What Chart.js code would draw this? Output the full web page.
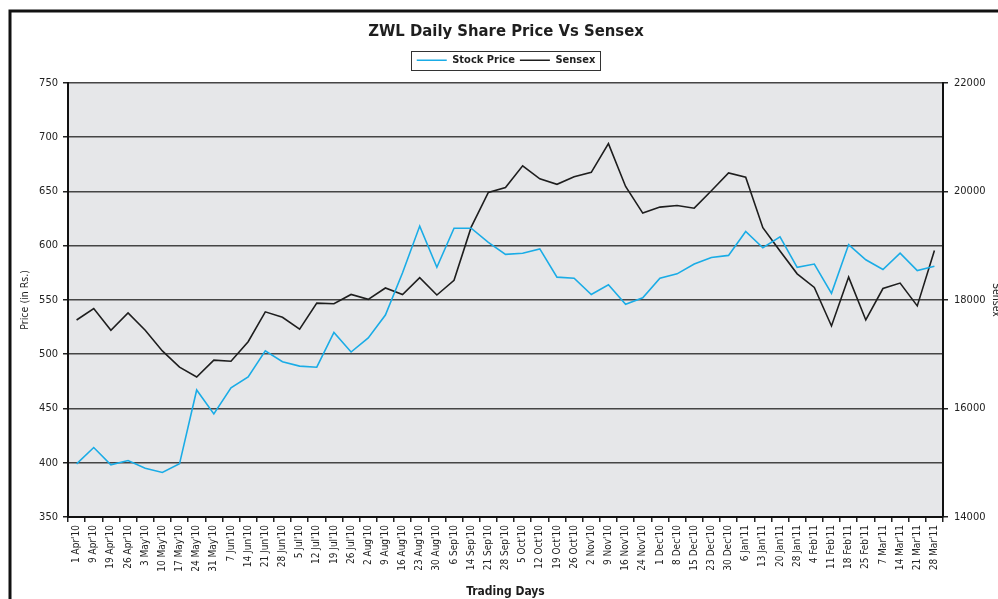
<!DOCTYPE html>
<html>
<head>
<meta charset="utf-8">
<title>ZWL Daily Share Price Vs Sensex</title>
<script src="https://cdn.jsdelivr.net/npm/chart.js@4.4.1/dist/chart.umd.min.js"></script>
<style>
  html, body { margin: 0; padding: 0; background: #fff; }
  #wrap { width: 998px; height: 599px; }
</style>
</head>
<body>
<div id="wrap"><canvas id="chart" width="998" height="599"></canvas></div>
<script>
// ════════════════════════════════════════════════════════════════════════════
// Data — weekly ZWL share price vs Sensex, Apr'10 – Mar'11
// ════════════════════════════════════════════════════════════════════════════

const tradingDays = [
  "1 Apr'10", "9 Apr'10", "19 Apr'10", "26 Apr'10", "3 May'10", "10 May'10",
  "17 May'10", "24 May'10", "31 May'10", "7 Jun'10", "14 Jun'10", "21 Jun'10",
  "28 Jun'10", "5 Jul'10", "12 Jul'10", "19 Jul'10", "26 Jul'10", "2 Aug'10",
  "9 Aug'10", "16 Aug'10", "23 Aug'10", "30 Aug'10", "6 Sep'10", "14 Sep'10",
  "21 Sep'10", "28 Sep'10", "5 Oct'10", "12 Oct'10", "19 Oct'10", "26 Oct'10",
  "2 Nov'10", "9 Nov'10", "16 Nov'10", "24 Nov'10", "1 Dec'10", "8 Dec'10",
  "15 Dec'10", "23 Dec'10", "30 Dec'10", "6 Jan'11", "13 Jan'11", "20 Jan'11",
  "28 Jan'11", "4 Feb'11", "11 Feb'11", "18 Feb'11", "25 Feb'11", "7 Mar'11",
  "14 Mar'11", "21 Mar'11", "28 Mar'11"
];

const stockPrice = [
  399, 414, 398, 402, 395, 391, 399, 467, 445, 469, 479, 503, 493, 489, 488,
  520, 502, 515, 536, 575, 618, 580, 616, 616, 603, 592, 593, 597, 571, 570,
  555, 564, 546, 552, 570, 574, 583, 589, 591, 613, 598, 608, 580, 583, 556,
  601, 587, 578, 593, 577, 581
];

const sensex = [
  17630, 17840, 17440, 17760, 17440, 17060, 16760, 16580, 16890, 16870, 17230,
  17780, 17680, 17460, 17940, 17930, 18100, 18010, 18220, 18100, 18410, 18090,
  18360, 19340, 19980, 20070, 20470, 20230, 20130, 20270, 20350, 20880, 20090,
  19600, 19710, 19740, 19690, 20010, 20340, 20260, 19330, 18900, 18480, 18230,
  17520, 18420, 17630, 18210, 18310, 17890, 18910
];

const priceAxis  = { min: 350,   max: 750,   step: 50 };
const sensexAxis = { min: 14000, max: 22000, step: 2000 };

// ── look ──────────────────────────────────────────────────────────────────────

const FONT      = "'DejaVu Sans Condensed', 'DejaVu Sans', sans-serif";
const INK       = '#1e1e1e';
const BLUE      = '#1aace6';
const PLOT_BG   = '#e6e7e9';
const GRID      = '#454545';

// ── plugins: frame, plot background, legend box ───────────────────────────────

const framePlugin = {
  id: 'frame',
  beforeDraw(chart) {
    const { ctx, chartArea: a } = chart;
    ctx.save();
    ctx.fillStyle = '#fff';
    ctx.fillRect(0, 0, chart.width, chart.height);
    ctx.fillStyle = PLOT_BG;
    ctx.fillRect(a.left, a.top, a.right - a.left, a.bottom - a.top);
    ctx.restore();
  },
  afterDraw(chart) {
    const { ctx } = chart;
    ctx.save();
    ctx.strokeStyle = '#111';
    ctx.lineWidth = 3;
    ctx.strokeRect(10, 11, chart.width + 20, chart.height + 20);

    // box round the legend
    const boxes = chart.legend && chart.legend.legendHitBoxes;
    if (boxes && boxes.length) {
      const l = Math.min(...boxes.map(b => b.left));
      const r = Math.max(...boxes.map(b => b.left + b.width));
      const t = Math.min(...boxes.map(b => b.top));
      const b = Math.max(...boxes.map(b => b.top + b.height));
      ctx.strokeStyle = '#333';
      ctx.lineWidth = 1;
      ctx.strokeRect(Math.round(l - 6) + 0.5, Math.round(t - 4) + 0.5,
                     Math.round(r - l + 10), Math.round(b - t + 8));
    }
    ctx.restore();
  }
};

// legend gets extra room underneath so the plot starts lower
const legendGap = {
  id: 'legendGap',
  beforeLayout(chart) {
    const lg = chart.legend;
    if (!lg || lg._gapPatched) return;
    const fit = lg.fit;
    lg.fit = function () { fit.call(this); this.height += 7; };
    lg._gapPatched = true;
  }
};

// ── chart ─────────────────────────────────────────────────────────────────────

new Chart(document.getElementById('chart'), {
  type: 'line',
  data: {
    labels: tradingDays,
    datasets: [
      {
        label: 'Stock Price', data: stockPrice, yAxisID: 'y',
        borderColor: BLUE, backgroundColor: BLUE,
        borderWidth: 1.6, pointRadius: 0, tension: 0, fill: false
      },
      {
        label: 'Sensex', data: sensex, yAxisID: 'y1',
        borderColor: INK, backgroundColor: INK,
        borderWidth: 1.6, pointRadius: 0, tension: 0, fill: false
      }
    ]
  },
  options: {
    responsive: false, animation: false,
    layout: { padding: { left: 14, right: 0, top: 0, bottom: 0 } },
    plugins: {
      title: {
        display: true, text: 'ZWL Daily Share Price Vs Sensex', color: INK,
        font: { family: FONT, size: 16.5, weight: 'bold' },
        padding: { top: 22, bottom: 8 }
      },
      legend: {
        display: true, position: 'top',
        labels: {
          usePointStyle: true, pointStyle: 'line', pointStyleWidth: 30,
          color: INK, padding: 5,
          font: { family: FONT, size: 11, weight: 'bold' }
        }
      },
      tooltip: { enabled: false }
    },
    scales: {
      x: {
        offset: true,
        afterFit(s) { s.height = 82; },
        border: { color: '#111', width: 2 },
        grid: { offset: true, drawOnChartArea: false, tickLength: 5, color: '#222', lineWidth: 1.5 },
        ticks: {
          autoSkip: false, maxRotation: 90, minRotation: 90, padding: 3,
          color: '#222', font: { family: FONT, size: 10 }
        },
        title: {
          display: true, text: 'Trading Days', color: INK,
          font: { family: FONT, size: 12, weight: 'bold' }, padding: { top: 0, bottom: 0 }
        }
      },
      y: {
        position: 'left',
        min: priceAxis.min, max: priceAxis.max,
        afterFit(s) { s.width = 54; },
        border: { color: '#111', width: 2 },
        grid: { color: GRID, lineWidth: 1.5, tickLength: 5, tickColor: '#222' },
        ticks: { stepSize: priceAxis.step, padding: 5, color: '#222', font: { family: FONT, size: 11 } },
        title: {
          display: true, text: 'Price (in Rs.)', color: '#222',
          font: { family: FONT, size: 10.5 }, padding: { top: 5, bottom: 0 }
        }
      },
      y1: {
        position: 'right',
        min: sensexAxis.min, max: sensexAxis.max,
        afterFit(s) { s.width = 55; },
        border: { color: '#111', width: 2 },
        grid: { drawOnChartArea: false, tickLength: 5, color: '#222', lineWidth: 1.5 },
        ticks: {
          stepSize: sensexAxis.step, padding: 6, color: '#222',
          font: { family: FONT, size: 11 },
          callback: v => String(v)
        },
        title: {
          display: true, text: 'Sensex', color: '#222',
          font: { family: FONT, size: 10.5, lineHeight: 0.5 }, padding: { top: 0, bottom: 0 }
        }
      }
    }
  },
  plugins: [framePlugin, legendGap]
});
</script>
</body>
</html>
